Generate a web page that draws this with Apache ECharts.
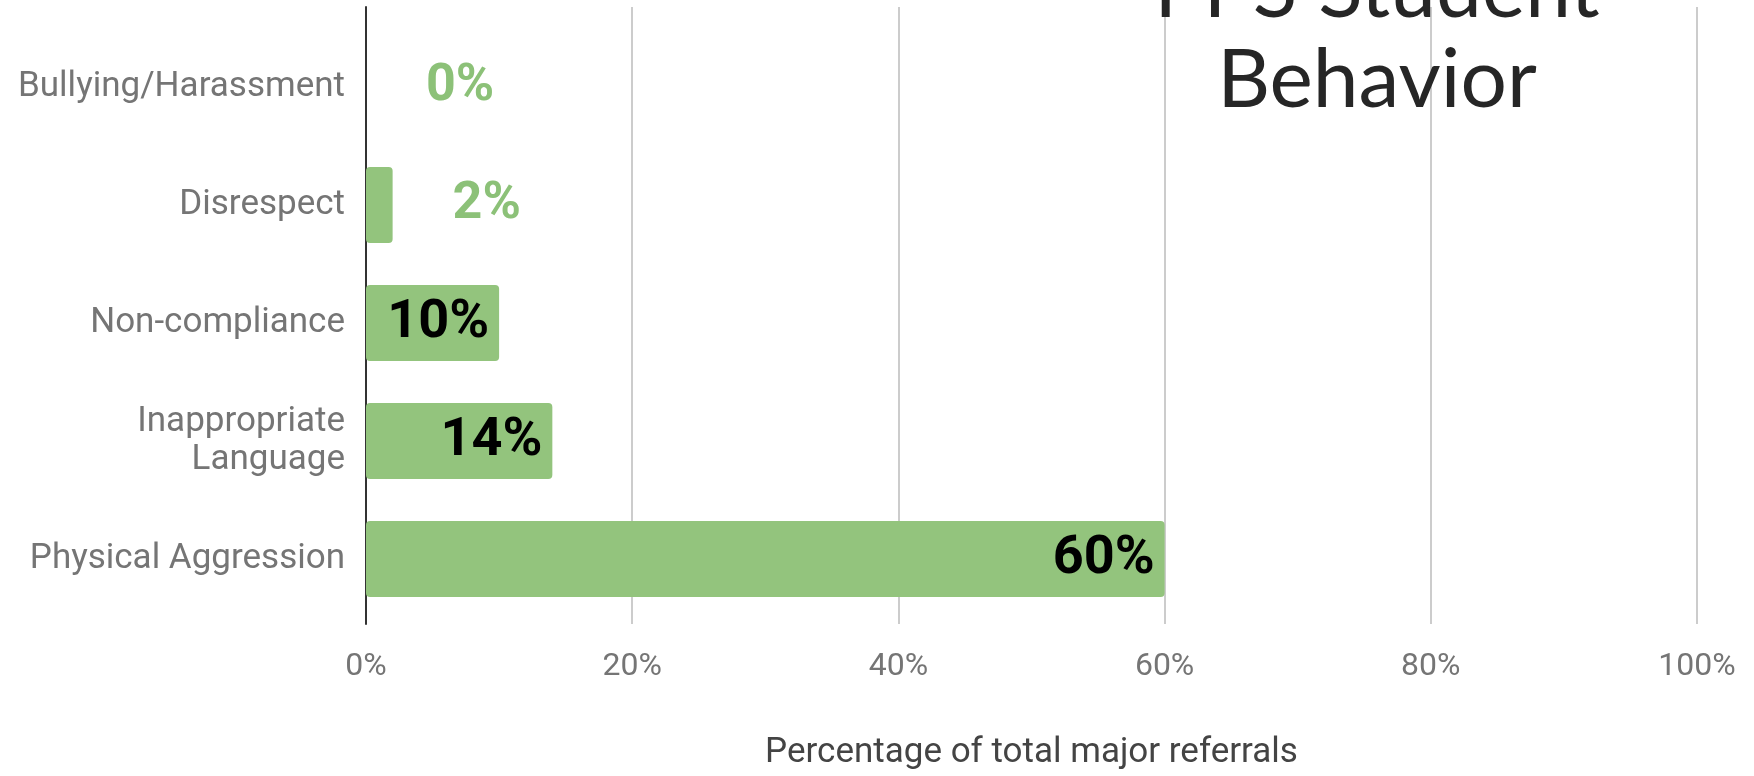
<!DOCTYPE html>
<html>
<head>
<meta charset="utf-8">
<script src="https://cdn.jsdelivr.net/npm/echarts@6/dist/echarts.min.js"></script>
<style>
html,body{margin:0;padding:0;background:#fff;}
#c{width:1754px;height:776px;}
</style>
</head>
<body>
<div id="c"></div>
<script>
var categories = ['Bullying/Harassment', 'Disrespect', 'Non-compliance', 'Inappropriate\nLanguage', 'Physical Aggression'];
var values = [0, 2, 10, 14, 60];
var xTicks = [0, 20, 40, 60, 80, 100];
var titleText = 'PPS Student\nBehavior';
var xAxisName = 'Percentage of total major referrals';

var GREEN = '#93c47d';
var data = values.map(function (v) {
  var outside = v < 5;
  return {
    value: v,
    label: outside ? {
      position: 'right', distance: 60, color: '#8cc178', fontSize: 52
    } : {
      position: 'insideRight', distance: 10, color: '#000', fontSize: 54
    }
  };
});

var chart = echarts.init(document.getElementById('c'), null, {renderer: 'canvas'});
chart.setOption({
  animation: false,
  backgroundColor: '#fff',
  graphic: [{
    type: 'text',
    x: 1377, y: 36,
    z: 100,
    style: {
      text: titleText,
      fontFamily: 'Lato',
      fontSize: 82,
      lineHeight: 90,
      fill: '#262626',
      textAlign: 'center',
      textVerticalAlign: 'middle'
    }
  }],
  grid: [
    {left: 366, right: 57, top: 7, bottom: 139},
    {left: 366, right: 57, top: 28, bottom: 158}
  ],
  xAxis: [{
    gridIndex: 0,
    type: 'value', min: xTicks[0], max: xTicks[xTicks.length - 1], interval: 20,
    axisLine: {show: false}, axisTick: {show: false},
    splitLine: {show: true, lineStyle: {color: '#cccccc', width: 2}},
    axisLabel: {
      formatter: function (v) { return v + '%'; },
      color: '#757575', fontFamily: 'Roboto', fontSize: 32, margin: 27
    },
    name: xAxisName, nameLocation: 'middle', nameGap: 112,
    nameTextStyle: {color: '#444', fontFamily: 'Roboto', fontSize: 35}
  }, {
    gridIndex: 1,
    type: 'value', min: 0, max: 100, show: false
  }],
  yAxis: [{
    gridIndex: 0, type: 'value', min: 0, max: 1,
    axisLine: {show: true, onZero: true, lineStyle: {color: '#333', width: 2}},
    axisTick: {show: false}, axisLabel: {show: false}, splitLine: {show: false}
  }, {
    gridIndex: 1, type: 'category', data: categories, inverse: true,
    axisLine: {show: false}, axisTick: {show: false},
    axisLabel: {color: '#757575', fontFamily: 'Roboto', fontSize: 35, margin: 21, lineHeight: 38, align: 'right'}
  }],
  series: [{
    type: 'bar',
    xAxisIndex: 1, yAxisIndex: 1,
    data: data,
    barWidth: 76,
    z: 3,
    itemStyle: {color: GREEN, borderRadius: 4},
    label: {
      show: true,
      formatter: '{c}%',
      fontFamily: 'Roboto', fontWeight: 'bold', fontSize: 54
    }
  }]
});
</script>
</body>
</html>
